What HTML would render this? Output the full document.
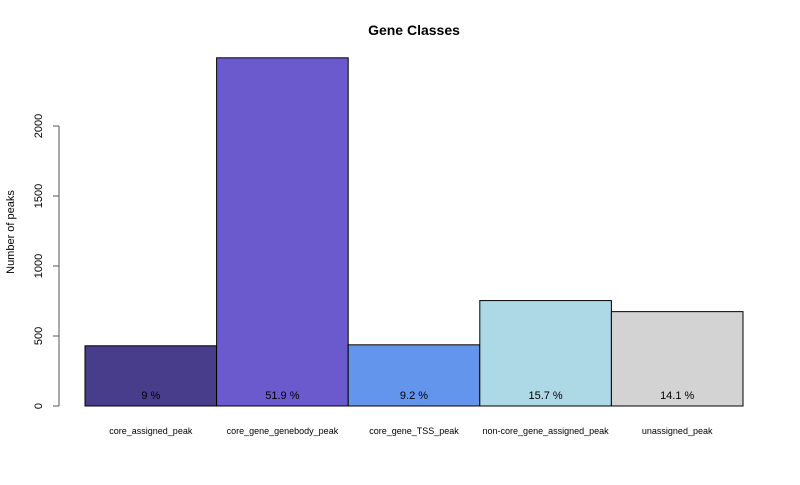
<!DOCTYPE html>
<html><head><meta charset="utf-8"><style>
body{margin:0;background:#fff}
svg text{font-family:"Liberation Sans",sans-serif}
</style></head><body>
<svg id="c" width="800" height="480" xmlns="http://www.w3.org/2000/svg">
<text x="414" y="35" text-anchor="middle" font-size="14" font-weight="bold">Gene Classes</text>
<text transform="translate(14,232) rotate(-90)" text-anchor="middle" font-size="11">Number of peaks</text>
</svg>
<script>
const categories=["core_assigned_peak","core_gene_genebody_peak","core_gene_TSS_peak","non-core_gene_assigned_peak","unassigned_peak"];
const values=[430,2487,437,753,674];
const pctLabels=["9 %","51.9 %","9.2 %","15.7 %","14.1 %"];
const colors=["#483D8B","#6A5ACD","#6495ED","#ADD8E6","#D3D3D3"];
const yTicks=[0,500,1000,1500,2000];
const svg=document.getElementById('c');
const NS='http://www.w3.org/2000/svg';
const y=v=>406-v*(280/2000);
const x0=85,bw=131.6;
function mk(t,a){const e=document.createElementNS(NS,t);for(const k in a)e.setAttribute(k,a[k]);svg.appendChild(e);return e;}
const ax=mk('line',{x1:59,x2:59,y1:y(0),y2:y(2000),stroke:'#555'});


yTicks.forEach(t=>{
 const l=mk('line',{x1:53,x2:59,y1:y(t),y2:y(t),stroke:'#555'});
 
 
 const tx=mk('text',{transform:`translate(42,${y(t)}) rotate(-90)`,'text-anchor':'middle','font-size':11});
 tx.textContent=t;
 
 
});
categories.forEach((c,i)=>{
 const x=x0+i*bw;
 const r=mk('rect',{x:x,y:y(values[i]),width:bw,height:y(0)-y(values[i]),fill:colors[i],stroke:'#000','stroke-width':1});
 
 
 const p=mk('text',{x:x+bw/2,y:399,'text-anchor':'middle','font-size':11});
 p.textContent=pctLabels[i];
 
 
 const l=mk('text',{x:x+bw/2,y:434,'text-anchor':'middle','font-size':9});
 l.textContent=c;
 
 
});
</script>
</body></html>
